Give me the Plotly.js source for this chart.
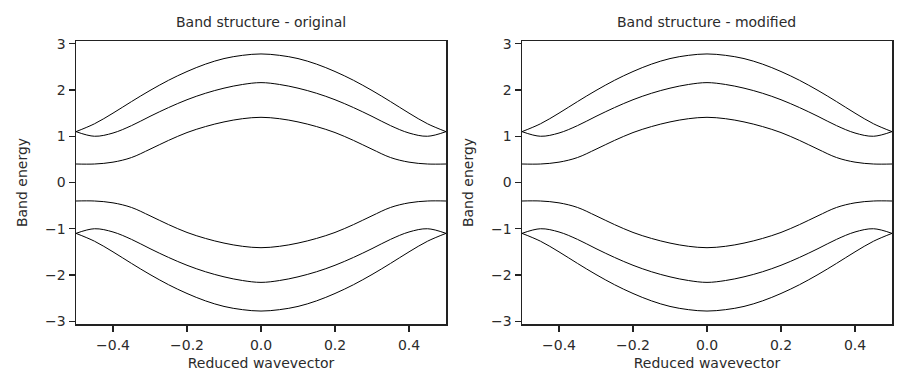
<!DOCTYPE html>
<html>
<head>
<meta charset="utf-8">
<script src="https://cdn.plot.ly/plotly-3.0.1.min.js"></script>
<style>
html,body{margin:0;padding:0;background:#fff;}
#chart{width:910px;height:392px;}
</style>
</head>
<body>
<div id="chart"></div>
<script>
// Reduced wavevector samples
const k = [-0.5, -0.45, -0.4, -0.35, -0.3, -0.25, -0.2, -0.15, -0.1, -0.05, 0,
           0.05, 0.1, 0.15, 0.2, 0.25, 0.3, 0.35, 0.4, 0.45, 0.5];

// Band energies (same in both panels)
const band6 = [1.10, 1.27, 1.50, 1.75, 1.99, 2.21, 2.40, 2.56, 2.68, 2.75, 2.78,
               2.75, 2.68, 2.56, 2.40, 2.21, 1.99, 1.75, 1.50, 1.27, 1.10];
const band5 = [1.10, 1.00, 1.07, 1.23, 1.43, 1.62, 1.79, 1.93, 2.04, 2.12, 2.16,
               2.12, 2.04, 1.93, 1.79, 1.62, 1.43, 1.23, 1.07, 1.00, 1.10];
const band4 = [0.40, 0.40, 0.44, 0.54, 0.72, 0.91, 1.08, 1.21, 1.31, 1.38, 1.41,
               1.38, 1.31, 1.21, 1.08, 0.91, 0.72, 0.54, 0.44, 0.40, 0.40];
const band3 = [-0.40, -0.40, -0.44, -0.54, -0.72, -0.91, -1.08, -1.21, -1.31, -1.38, -1.41,
               -1.38, -1.31, -1.21, -1.08, -0.91, -0.72, -0.54, -0.44, -0.40, -0.40];
const band2 = [-1.10, -1.00, -1.07, -1.23, -1.43, -1.62, -1.79, -1.93, -2.04, -2.12, -2.16,
               -2.12, -2.04, -1.93, -1.79, -1.62, -1.43, -1.23, -1.07, -1.00, -1.10];
const band1 = [-1.10, -1.27, -1.50, -1.75, -1.99, -2.21, -2.40, -2.56, -2.68, -2.75, -2.78,
               -2.75, -2.68, -2.56, -2.40, -2.21, -1.99, -1.75, -1.50, -1.27, -1.10];

const bands = [band1, band2, band3, band4, band5, band6];
const panelTitles = ["Band structure - original", "Band structure - modified"];
const xTickVals = [-0.4, -0.2, 0, 0.2, 0.4];
const xTickText = ["\u22120.4", "\u22120.2", "0.0", "0.2", "0.4"];
const yTickVals = [-3, -2, -1, 0, 1, 2, 3];
const yTickText = ["\u22123", "\u22122", "\u22121", "0", "1", "2", "3"];

const FONT = "DejaVu Sans, sans-serif";
const TXT = "#2b2b2b";
const traces = [];
[["x", "y"], ["x2", "y2"]].forEach(([xa, ya]) => {
  bands.forEach(b => {
    traces.push({
      x: k, y: b, xaxis: xa, yaxis: ya, type: "scatter", mode: "lines",
      line: {color: "#000", width: 1, shape: "spline", smoothing: 1},
      hoverinfo: "skip", showlegend: false
    });
  });
});

function xAxis(domain, anchor) {
  return {
    domain: domain, anchor: anchor, range: [-0.5, 0.5],
    tickmode: "array", tickvals: xTickVals, ticktext: xTickText,
    ticks: "outside", ticklen: 6, tickwidth: 1.2, tickcolor: "#222",
    ticklabelstandoff: 2,
    showline: true, linecolor: "#222", linewidth: 1.5, mirror: true,
    showgrid: false, zeroline: false,
    tickfont: {family: FONT, size: 14, color: TXT},
    title: {text: "Reduced wavevector", font: {family: FONT, size: 14, color: TXT}, standoff: 6}
  };
}
function yAxis(domain, anchor) {
  return {
    domain: domain, anchor: anchor, range: [-3.06, 3.06],
    tickmode: "array", tickvals: yTickVals, ticktext: yTickText,
    ticks: "outside", ticklen: 6, tickwidth: 1.2, tickcolor: "#222",
    showline: true, linecolor: "#222", linewidth: 1.5, mirror: true,
    showgrid: false, zeroline: false,
    tickfont: {family: FONT, size: 14, color: TXT},
    title: {text: "Band energy", font: {family: FONT, size: 14, color: TXT}, standoff: 14}
  };
}

const yDom = [(392 - 324) / 392, (392 - 41) / 392];
const xDom1 = [76 / 910, 446 / 910];
const xDom2 = [522 / 910, 892 / 910];

const layout = {
  width: 910, height: 392,
  margin: {l: 0, r: 0, t: 0, b: 0},
  paper_bgcolor: "#fff", plot_bgcolor: "#fff",
  font: {family: FONT, size: 14, color: TXT},
  xaxis: xAxis(xDom1, "y"),
  yaxis: yAxis(yDom, "x"),
  xaxis2: xAxis(xDom2, "y2"),
  yaxis2: yAxis(yDom, "x2"),
  annotations: [
    {text: panelTitles[0], xref: "paper", yref: "paper",
     x: (xDom1[0] + xDom1[1]) / 2, y: (392 - 22) / 392, xanchor: "center", yanchor: "middle",
     showarrow: false, font: {family: FONT, size: 14, color: TXT}},
    {text: panelTitles[1], xref: "paper", yref: "paper",
     x: (xDom2[0] + xDom2[1]) / 2, y: (392 - 22) / 392, xanchor: "center", yanchor: "middle",
     showarrow: false, font: {family: FONT, size: 14, color: TXT}}
  ]
};

Plotly.newPlot("chart", traces, layout, {staticPlot: true, displayModeBar: false});
</script>
</body>
</html>
